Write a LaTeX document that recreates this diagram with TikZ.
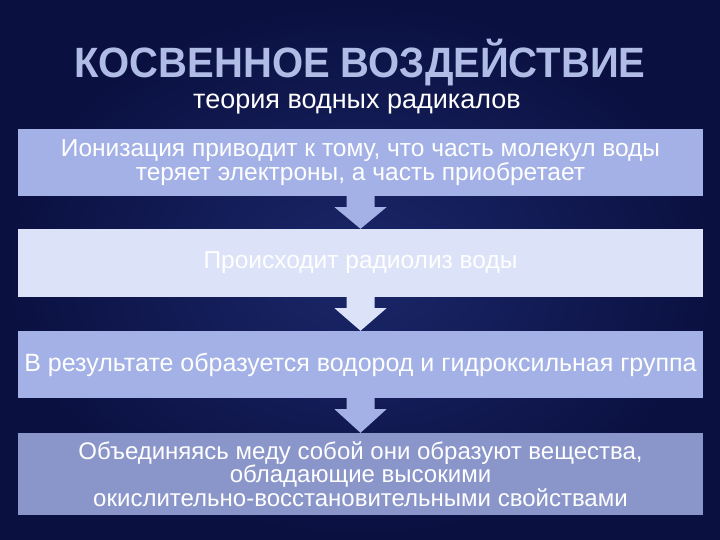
\documentclass[tikz,border=0pt]{standalone}
\usepackage{fontspec}
\setmainfont{Liberation Sans}
\usetikzlibrary{calc}
\definecolor{Night}{HTML}{0A1040}
\definecolor{NightGlow}{HTML}{1B276A}
\definecolor{Peri}{HTML}{A3B1E6}
\definecolor{Mist}{HTML}{DCE2F8}
\definecolor{Slate}{HTML}{8A96CA}
\definecolor{TitleInk}{HTML}{B0BCE6}
\tikzset{
  stage/.style={minimum width=685pt,minimum height=67pt,inner sep=0pt,align=center,
    text=white,font=\fontsize{24.5}{24}\selectfont},
}
\newcommand{\stagearrow}[3]{%
  \fill[#3] ($(#1.south)+(-14,2)$) -- ($(#1.south)+(14,2)$) -- ($(#1.south)+(14,-11)$)
    -- ($(#1.south)+(26,-11)$) -- (#2.north) -- ($(#1.south)+(-26,-11)$)
    -- ($(#1.south)+(-14,-11)$) -- cycle;}

\begin{document}
\begin{tikzpicture}[x=1pt,y=1pt]
\useasboundingbox (0,0) rectangle (720,540);
\shade[inner color=NightGlow,outer color=Night] (0,0) rectangle (720,540);
\node[font=\fontsize{40}{44}\selectfont\bfseries,text=TitleInk,yscale=1.06] (title) at (360,477)
  {КОСВЕННОЕ ВОЗДЕЙСТВИЕ};
\node[font=\fontsize{27}{30}\selectfont,text=white] (sub) at (357,436)
  {теория водных радикалов};
\node[stage,fill=Peri] (ion) at (360.5,377.5)
  {Ионизация приводит к тому, что часть молекул воды\\теряет электроны, а часть приобретает};
\node[stage,fill=Mist,minimum height=68pt] (rad) at (360.5,277) {Происходит радиолиз воды};
\node[stage,fill=Peri,font=\fontsize{25}{24}\selectfont] (res) at (360.5,175.5)
  {В результате образуется водород и гидроксильная группа};
\node[stage,fill=Slate,minimum height=82pt,font=\fontsize{24}{23.5}\selectfont] (comb) at (360.5,66)
  {Объединяясь меду собой они образуют вещества,\\обладающие высокими\\окислительно-восстановительными свойствами};
\stagearrow{ion}{rad}{Peri}
\stagearrow{rad}{res}{Mist}
\stagearrow{res}{comb}{Peri}
\end{tikzpicture}
\end{document}
